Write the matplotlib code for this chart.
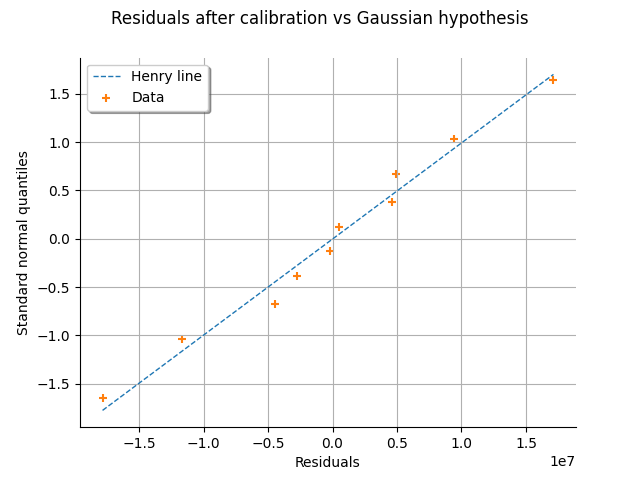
import numpy as np
import matplotlib
matplotlib.use("Agg")
import matplotlib.pyplot as plt

residuals = [-1.783e7, -1.169e7, -0.447e7, -0.276e7, -0.019e7,
             0.051e7, 0.462e7, 0.493e7, 0.944e7, 1.713e7]
quantiles = [-1.645, -1.036, -0.674, -0.385, -0.126,
             0.126, 0.385, 0.674, 1.036, 1.645]
henry_mu = 0.003e7
henry_sigma = 1.006e7

fig, ax = plt.subplots(figsize=(6.4, 4.8), dpi=100)
xs = np.array([min(residuals), max(residuals)])
ax.plot(xs, (xs - henry_mu) / henry_sigma, linestyle="--", linewidth=1,
        color="#1f77b4", label="Henry line")
ax.scatter(residuals, quantiles, marker="+", color="#ff7f0e", label="Data")
ax.set_xlabel("Residuals")
ax.set_ylabel("Standard normal quantiles")
ax.grid(True)
ax.spines["top"].set_visible(False)
ax.spines["right"].set_visible(False)
ax.legend(loc="upper left", shadow=True)
fig.suptitle("Residuals after calibration vs Gaussian hypothesis")
fig.savefig("out.png")
